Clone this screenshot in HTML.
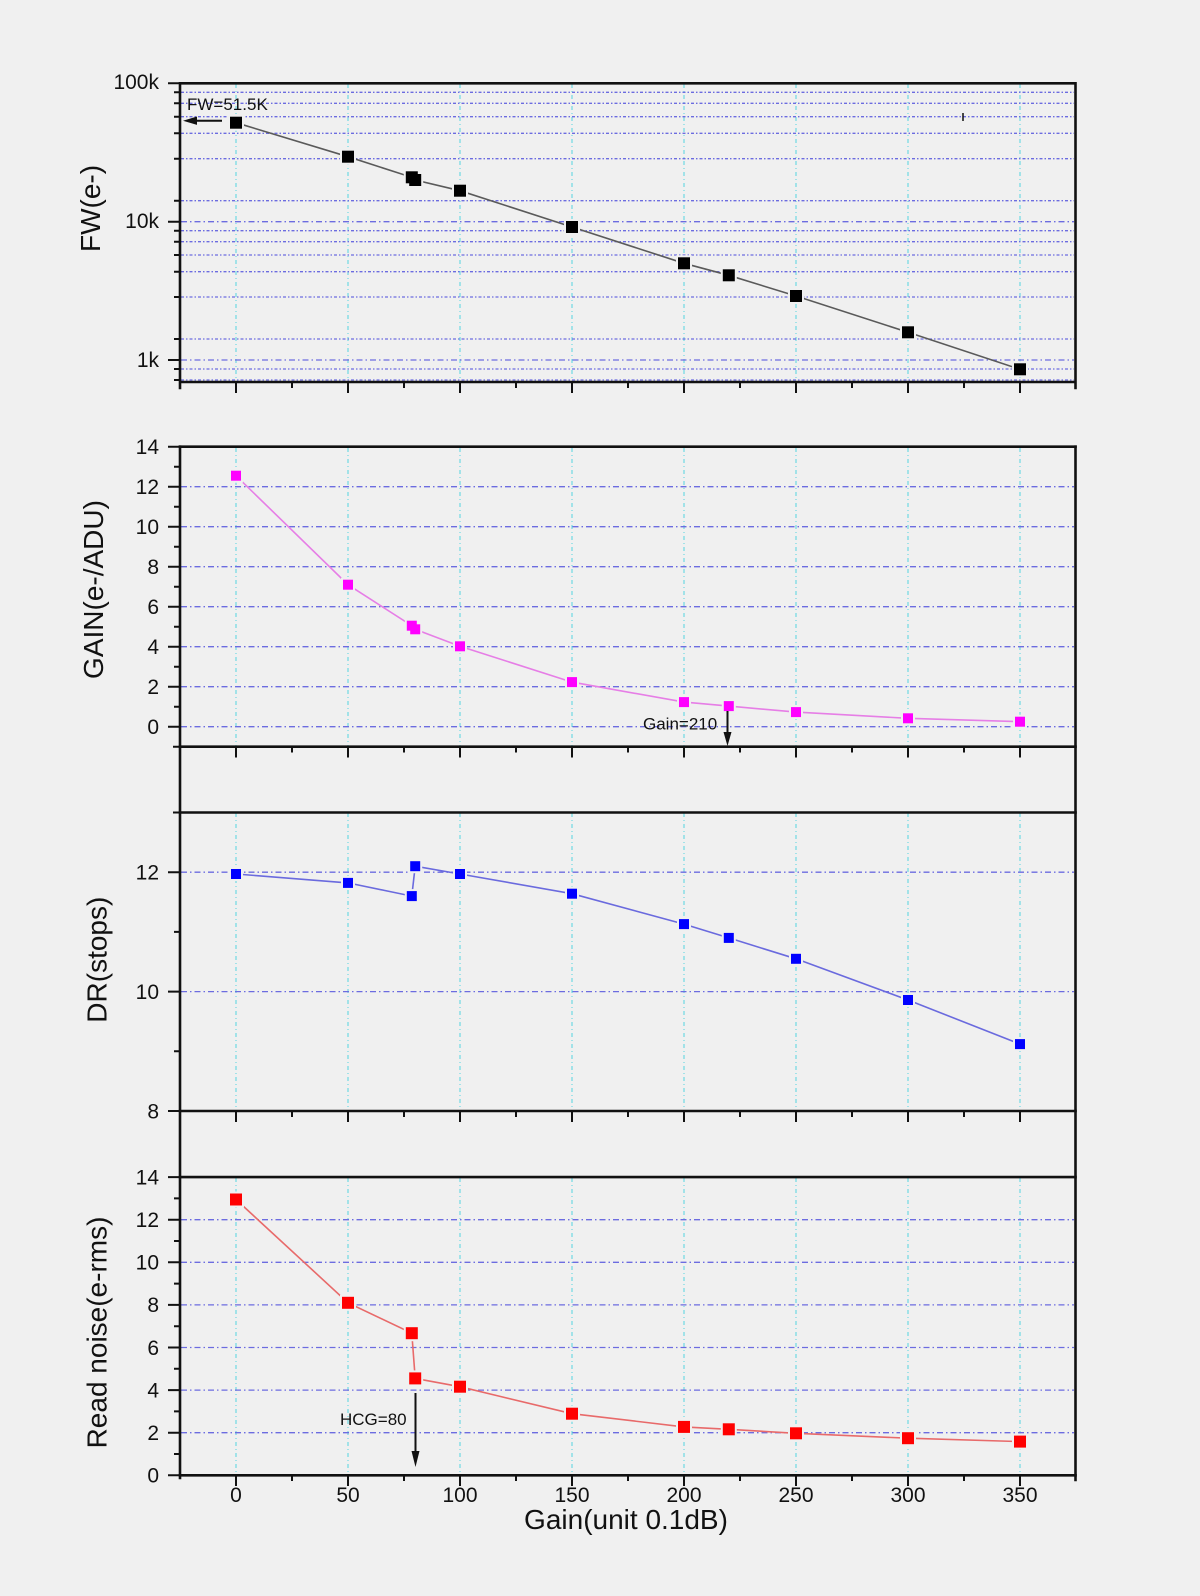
<!DOCTYPE html>
<html><head><meta charset="utf-8"><style>
html,body{margin:0;padding:0;background:#f0f0f0;}
svg{display:block;}
text{font-family:"Liberation Sans",Arial,sans-serif;fill:#111;}
</style></head><body>
<svg width="1200" height="1596" viewBox="0 0 1200 1596" xmlns="http://www.w3.org/2000/svg">
<defs>
  <g id="m1">
    <rect x="230" y="116.7" width="12" height="12"/>
    <rect x="342" y="150.7" width="12" height="12"/>
    <rect x="405.8" y="171.3" width="12" height="12"/>
    <rect x="409.2" y="174" width="12" height="12"/>
    <rect x="454" y="184.7" width="12" height="12"/>
    <rect x="566" y="221" width="12" height="12"/>
    <rect x="678" y="257.3" width="12" height="12"/>
    <rect x="722.8" y="269.3" width="12" height="12"/>
    <rect x="790" y="290" width="12" height="12"/>
    <rect x="902" y="326.3" width="12" height="12"/>
    <rect x="1014" y="363.3" width="12" height="12"/>
  </g>
  <g id="m2">
    <rect x="231" y="470.7" width="10" height="10"/>
    <rect x="343" y="579.7" width="10" height="10"/>
    <rect x="406.8" y="620.7" width="10" height="10"/>
    <rect x="410.2" y="624.3" width="10" height="10"/>
    <rect x="455" y="641.3" width="10" height="10"/>
    <rect x="567" y="677.1" width="10" height="10"/>
    <rect x="679" y="697.1" width="10" height="10"/>
    <rect x="723.8" y="701.1" width="10" height="10"/>
    <rect x="791" y="707.1" width="10" height="10"/>
    <rect x="903" y="713.3" width="10" height="10"/>
    <rect x="1015" y="716.7" width="10" height="10"/>
  </g>
  <g id="m3">
    <rect x="231" y="869" width="10" height="10"/>
    <rect x="343" y="877.9" width="10" height="10"/>
    <rect x="406.8" y="891.1" width="10" height="10"/>
    <rect x="410.2" y="861.2" width="10" height="10"/>
    <rect x="455" y="869" width="10" height="10"/>
    <rect x="567" y="888.7" width="10" height="10"/>
    <rect x="679" y="919.1" width="10" height="10"/>
    <rect x="723.8" y="932.9" width="10" height="10"/>
    <rect x="791" y="953.8" width="10" height="10"/>
    <rect x="903" y="995" width="10" height="10"/>
    <rect x="1015" y="1039.1" width="10" height="10"/>
  </g>
  <g id="m4">
    <rect x="230" y="1193.5" width="12" height="12"/>
    <rect x="342" y="1296.8" width="12" height="12"/>
    <rect x="405.8" y="1327.2" width="12" height="12"/>
    <rect x="409.2" y="1372.4" width="12" height="12"/>
    <rect x="454" y="1380.7" width="12" height="12"/>
    <rect x="566" y="1407.7" width="12" height="12"/>
    <rect x="678" y="1420.9" width="12" height="12"/>
    <rect x="722.8" y="1423.3" width="12" height="12"/>
    <rect x="790" y="1427.3" width="12" height="12"/>
    <rect x="902" y="1432.2" width="12" height="12"/>
    <rect x="1014" y="1435.6" width="12" height="12"/>
  </g>
</defs>
<rect width="1200" height="1596" fill="#f0f0f0"/>

<!-- ================= vertical cyan grid ================= -->
<g stroke="#54d4e0" stroke-width="1" stroke-dasharray="4 3 1 3">
  <path d="M236 84V381 M348 84V381 M460 84V381 M572 84V381 M684 84V381 M796 84V381 M908 84V381 M1020 84V381"/>
  <path d="M236 448V746 M348 448V746 M460 448V746 M572 448V746 M684 448V746 M796 448V746 M908 448V746 M1020 448V746"/>
  <path d="M236 813V1110 M348 813V1110 M460 813V1110 M572 813V1110 M684 813V1110 M796 813V1110 M908 813V1110 M1020 813V1110"/>
  <path d="M236 1178V1475 M348 1178V1475 M460 1178V1475 M572 1178V1475 M684 1178V1475 M796 1178V1475 M908 1178V1475 M1020 1178V1475"/>
</g>

<!-- ================= horizontal blue grid ================= -->
<g stroke="#6c6ce0" stroke-width="1.3" fill="none">
  <path stroke-dasharray="3 2 1.5 2" d="M181 92.3H1074 M181 103.3H1074 M181 116.7H1074 M181 133.3H1074 M181 158.7H1074 M181 200.7H1074 M181 230.7H1074 M181 241.7H1074 M181 255H1074 M181 271.7H1074 M181 297H1074 M181 339H1074 M181 369H1074 M181 380H1074"/>
  <path stroke-dasharray="6 3 1.5 3" d="M181 221.7H1074 M181 360H1074"/>
  <path stroke-dasharray="6 3 1.5 3" d="M181 726.7H1074 M181 686.7H1074 M181 646.7H1074 M181 606.7H1074 M181 566.7H1074 M181 526.7H1074 M181 486.7H1074"/>
  <path stroke-dasharray="6 3 1.5 3" d="M181 872.2H1074 M181 991.6H1074"/>
  <path stroke-dasharray="6 3 1.5 3" d="M181 1432.7H1074 M181 1390.1H1074 M181 1347.5H1074 M181 1304.9H1074 M181 1262.3H1074 M181 1219.7H1074"/>
</g>

<!-- ================= frames ================= -->
<g stroke="#111" stroke-width="2.6" fill="none" stroke-linecap="square">
  <path d="M180 83.3H1075.5 M180 382H1075.5 M180 83.3V388 M1075.5 83.3V388"/>
  <path d="M180 446.7V1478 M1075.5 446.7V1480"/>
  <path d="M180 446.7H1075.5 M180 746.7H1075.5 M180 812.5H1075.5 M180 1111H1075.5 M180 1177.1H1075.5 M180 1475.3H1075.5"/>
</g>

<!-- ================= ticks ================= -->
<g stroke="#111" stroke-width="2" fill="none">
  <path d="M168 83.3H180 M168 221.7H180 M168 360H180"/>
  <path d="M174 92.3H180 M174 103.3H180 M174 116.7H180 M174 133.3H180 M174 158.7H180 M174 200.7H180 M174 230.7H180 M174 241.7H180 M174 255H180 M174 271.7H180 M174 297H180 M174 339H180 M174 369H180 M174 380H180"/>
  <path d="M168 446.7H180 M168 486.7H180 M168 526.7H180 M168 566.7H180 M168 606.7H180 M168 646.7H180 M168 686.7H180 M168 726.7H180"/>
  <path d="M174 466.7H180 M174 506.7H180 M174 546.7H180 M174 586.7H180 M174 626.7H180 M174 666.7H180 M174 706.7H180 M173 746.7H180"/>
  <path d="M168 872.2H180 M168 991.6H180 M168 1111H180"/>
  <path d="M173 812.5H180 M174 931.9H180 M174 1051.3H180"/>
  <path d="M168 1177.1H180 M168 1219.7H180 M168 1262.3H180 M168 1304.9H180 M168 1347.5H180 M168 1390.1H180 M168 1432.7H180 M168 1475.3H180"/>
  <path d="M174 1198.4H180 M174 1241H180 M174 1283.6H180 M174 1326.2H180 M174 1368.8H180 M174 1411.4H180 M174 1454H180"/>
  <path d="M236 382V393 M348 382V393 M460 382V393 M572 382V393 M684 382V393 M796 382V393 M908 382V393 M1020 382V393"/>
  <path d="M292 382V388 M404 382V388 M516 382V388 M628 382V388 M740 382V388 M852 382V388 M964 382V388"/>
  <path d="M236 746.7V757.5 M348 746.7V757.5 M460 746.7V757.5 M572 746.7V757.5 M684 746.7V757.5 M796 746.7V757.5 M908 746.7V757.5 M1020 746.7V757.5"/>
  <path d="M292 746.7V752.5 M404 746.7V752.5 M516 746.7V752.5 M628 746.7V752.5 M740 746.7V752.5 M852 746.7V752.5 M964 746.7V752.5"/>
  <path d="M236 1111V1122 M348 1111V1122 M460 1111V1122 M572 1111V1122 M684 1111V1122 M796 1111V1122 M908 1111V1122 M1020 1111V1122"/>
  <path d="M292 1111V1117 M404 1111V1117 M516 1111V1117 M628 1111V1117 M740 1111V1117 M852 1111V1117 M964 1111V1117"/>
  <path d="M236 1475.3V1486 M348 1475.3V1486 M460 1475.3V1486 M572 1475.3V1486 M684 1475.3V1486 M796 1475.3V1486 M908 1475.3V1486 M1020 1475.3V1486"/>
  <path d="M292 1475.3V1481 M404 1475.3V1481 M516 1475.3V1481 M628 1475.3V1481 M740 1475.3V1481 M852 1475.3V1481 M964 1475.3V1481"/>
  <path d="M963 113V121" stroke-width="1.5"/>
</g>

<!-- ================= tick labels ================= -->
<g font-size="21" text-anchor="end">
  <text x="159" y="89">100k</text>
  <text x="159" y="228">10k</text>
  <text x="159" y="367">1k</text>

  <text x="159" y="454">14</text>
  <text x="159" y="494">12</text>
  <text x="159" y="534">10</text>
  <text x="159" y="574">8</text>
  <text x="159" y="614">6</text>
  <text x="159" y="654">4</text>
  <text x="159" y="694">2</text>
  <text x="159" y="734">0</text>

  <text x="159" y="879.5">12</text>
  <text x="159" y="999">10</text>
  <text x="159" y="1118.5">8</text>

  <text x="159" y="1184.5">14</text>
  <text x="159" y="1227">12</text>
  <text x="159" y="1269.5">10</text>
  <text x="159" y="1312">8</text>
  <text x="159" y="1355">6</text>
  <text x="159" y="1397.5">4</text>
  <text x="159" y="1440">2</text>
  <text x="159" y="1482.5">0</text>
</g>
<g font-size="21" text-anchor="middle">
  <text x="236" y="1502">0</text>
  <text x="348" y="1502">50</text>
  <text x="460" y="1502">100</text>
  <text x="572" y="1502">150</text>
  <text x="684" y="1502">200</text>
  <text x="796" y="1502">250</text>
  <text x="908" y="1502">300</text>
  <text x="1020" y="1502">350</text>
</g>

<!-- ================= axis titles ================= -->
<g font-size="28" text-anchor="middle">
  <text transform="translate(100,208.5) rotate(-90)">FW(e-)</text>
  <text transform="translate(103,589.5) rotate(-90)">GAIN(e-/ADU)</text>
  <text transform="translate(106.5,959.7) rotate(-90)">DR(stops)</text>
  <text transform="translate(106.5,1332.5) rotate(-90)">Read noise(e-rms)</text>
  <text x="626" y="1529">Gain(unit 0.1dB)</text>
</g>

<!-- ================= series 1 (black, FW) ================= -->
<polyline fill="none" stroke="#5a5a5a" stroke-width="1.6" points="236,122.7 348,156.7 411.8,177.3 415.2,180 460,190.7 572,227 684,263.3 728.8,275.3 796,296 908,332.3 1020,369.3"/>
<use href="#m1" fill="#f0f0f0" stroke="#f0f0f0" stroke-width="4"/>
<use href="#m1" fill="#000"/>
<text x="187" y="110" font-size="17">FW=51.5K</text>
<path d="M195 120.7H222" stroke="#111" stroke-width="2"/>
<path d="M183 120.7L197 116.5L197 124.9Z" fill="#111"/>

<!-- ================= series 2 (magenta, GAIN) ================= -->
<polyline fill="none" stroke="#e67ee6" stroke-width="1.6" points="236,475.7 348,584.7 411.8,625.7 415.2,629.3 460,646.3 572,682.1 684,702.1 728.8,706.1 796,712.1 908,718.3 1020,721.7"/>
<use href="#m2" fill="#f0f0f0" stroke="#f0f0f0" stroke-width="4"/>
<use href="#m2" fill="#ff00ff"/>
<text x="643" y="729.5" font-size="17">Gain=210</text>
<path d="M727.5 711V734" stroke="#111" stroke-width="2"/>
<path d="M727.5 746L723.5 732L731.5 732Z" fill="#111"/>

<!-- ================= series 3 (blue, DR) ================= -->
<polyline fill="none" stroke="#6a6ade" stroke-width="1.6" points="236,874 348,882.9 411.8,896.1 415.2,866.2 460,874 572,893.7 684,924.1 728.8,937.9 796,958.8 908,1000 1020,1044.1"/>
<use href="#m3" fill="#f0f0f0" stroke="#f0f0f0" stroke-width="4"/>
<use href="#m3" fill="#0000ff"/>

<!-- ================= series 4 (red, Read noise) ================= -->
<polyline fill="none" stroke="#e86a6a" stroke-width="1.6" points="236,1199.5 348,1302.8 411.8,1333.2 415.2,1378.4 460,1386.7 572,1413.7 684,1426.9 728.8,1429.3 796,1433.3 908,1438.2 1020,1441.6"/>
<use href="#m4" fill="#f0f0f0" stroke="#f0f0f0" stroke-width="4"/>
<use href="#m4" fill="#ff0000"/>
<text x="340" y="1425" font-size="17">HCG=80</text>
<path d="M415.5 1393V1455" stroke="#111" stroke-width="2"/>
<path d="M415.5 1467L411.5 1451L419.5 1451Z" fill="#111"/>

</svg>
</body></html>
